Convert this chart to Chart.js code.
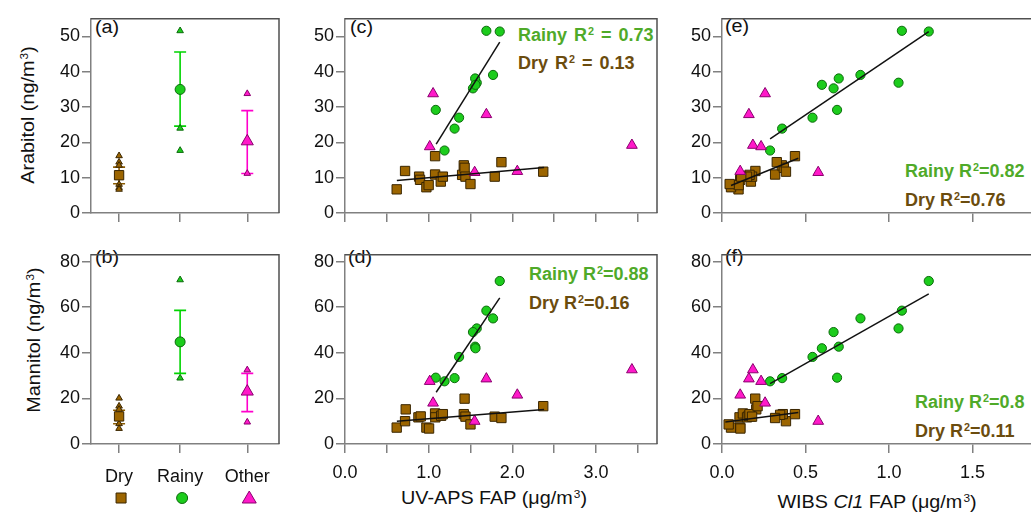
<!DOCTYPE html>
<html>
<head>
<meta charset="utf-8">
<script src="https://cdn.jsdelivr.net/npm/chart.js@4.4.1/dist/chart.umd.min.js"></script>
<style>
  html, body { margin: 0; padding: 0; background: #fff; }
  body { width: 1031px; height: 512px; position: relative; overflow: hidden;
         font-family: "Liberation Sans", Arial, sans-serif; color: #111; }
  canvas { position: absolute; }
  .lbl { position: absolute; white-space: nowrap; line-height: 1; font-size: 18px;
         transform: scaleX(1.1); transform-origin: left top; }
  .r2 { position: absolute; white-space: nowrap; line-height: 1; font-size: 18px; font-weight: bold; }
  .wide { word-spacing: 2px; }
  .rainy { color: #4faa29; }
  .dry { color: #6b4c0e; }
  sup { font-size: 0.6em; position: relative; top: -0.6em; vertical-align: baseline; margin-left: 1px; }
  .ytitle { position: absolute; white-space: nowrap; line-height: 1; font-size: 18px;
            transform: translate(-50%, -50%) rotate(-90deg) scaleX(1.1); }
  .xtitle { position: absolute; white-space: nowrap; line-height: 1; font-size: 18px;
            transform: translate(-50%, -50%) scaleX(1.1); }
</style>
</head>
<body>

<div class="lbl" style="left:95px;top:18px">(a)</div>
<div class="lbl" style="left:95px;top:248px">(b)</div>
<div class="lbl" style="left:350px;top:18px">(c)</div>
<div class="lbl" style="left:348px;top:248px">(d)</div>
<div class="lbl" style="left:725px;top:17px">(e)</div>
<div class="lbl" style="left:725px;top:247px">(f)</div>

<div class="r2 rainy wide" style="left:518px;top:26px">Rainy R<sup>2</sup> = 0.73</div>
<div class="r2 dry wide" style="left:518px;top:54px">Dry R<sup>2</sup> = 0.13</div>
<div class="r2 rainy" style="left:529px;top:265px">Rainy R<sup>2</sup>=0.88</div>
<div class="r2 dry" style="left:529px;top:294px">Dry R<sup>2</sup>=0.16</div>
<div class="r2 rainy" style="left:905px;top:162px">Rainy R<sup>2</sup>=0.82</div>
<div class="r2 dry" style="left:905px;top:191px">Dry R<sup>2</sup>=0.76</div>
<div class="r2 rainy" style="left:915px;top:393px">Rainy R<sup>2</sup>=0.8</div>
<div class="r2 dry" style="left:915px;top:422px">Dry R<sup>2</sup>=0.11</div>

<div class="ytitle" style="left:28px;top:115px">Arabitol (ng/m<sup>3</sup>)</div>
<div class="ytitle" style="left:34px;top:340px">Mannitol (ng/m<sup>3</sup>)</div>
<div class="xtitle" style="left:494px;top:498px">UV-APS FAP (&mu;g/m<sup>3</sup>)</div>
<div class="xtitle" style="left:877px;top:502px">WIBS <i>Cl1</i> FAP (&mu;g/m<sup>3</sup>)</div>

<script>
// Arabitol / mannitol vs fluorescent aerosol particles, by season

const seasons = ['Dry', 'Rainy', 'Other'];

// (a) arabitol summary per season
const araMean = [10.7, 35.0, 20.3];
const araErrHi = [13.0, 45.6, 29.0];
const araErrLo = [8.3, 24.6, 11.2];
const araMarks = [[16.2, 14.4, 13.5, 8.1, 7.2, 6.7], [51.6, 24.0, 17.7], [33.8, 11.2]];

// (b) mannitol summary per season
const manMean = [12.1, 44.8, 23.0];
const manErrHi = [14.8, 58.6, 31.0];
const manErrLo = [8.9, 31.0, 14.2];
const manMarks = [[20.1, 16.6, 15.2, 8.9, 6.8], [72.0, 28.9], [32.5, 9.6]];

// rainy samples
const rainyUv = [1.85, 1.69, 1.77, 1.085, 1.364, 1.31, 1.19, 1.575, 1.556, 1.53, 1.56];
const rainyWibs = [1.238, 1.077, 0.829, 0.689, 0.542, 0.360, 0.288, 1.057, 0.699, 0.668, 0.598];
const rainyAra = [51.4, 51.6, 39.1, 29.2, 27.0, 23.9, 17.7, 36.9, 38.1, 35.3, 36.3];
const rainyMan = [71.5, 58.5, 55.1, 29.1, 38.2, 28.9, 27.5, 50.7, 42.7, 49.1, 42.0];

// other samples
const otherUv = [1.053, 1.69, 3.43, 1.013, 2.06, 1.55];
const otherWibs = [0.258, 0.161, 0.185, 0.234, 0.109, 0.576];
const otherAra = [33.8, 27.9, 19.2, 18.8, 11.8, 11.5];
const otherMan = [18.0, 28.6, 32.6, 27.5, 21.5, 10.0];

// dry samples (read per panel)
const dryUvC = [0.618, 0.718, 0.886, 0.897, 0.973, 1.00, 1.077, 1.077, 1.145, 1.17, 1.40, 1.42, 1.43, 1.44, 1.50, 1.79, 1.87, 2.37];
const dryAraC = [6.7, 11.9, 10.3, 9.4, 7.3, 7.9, 16.1, 10.9, 8.9, 10.3, 10.8, 13.5, 12.8, 10.3, 8.2, 10.3, 14.4, 11.7];
const dryUvD = [0.618, 0.718, 0.726, 0.878, 0.905, 0.973, 1.005, 1.077, 1.08, 1.15, 1.17, 1.43, 1.42, 1.44, 1.50, 1.79, 1.87, 2.37];
const dryManD = [7.2, 10.0, 15.2, 11.7, 12.1, 7.2, 6.8, 13.4, 11.7, 12.4, 13.1, 19.9, 13.1, 12.0, 8.6, 12.0, 11.4, 16.6];
const dryWibsE = [0.099, 0.20, 0.17, 0.109, 0.054, 0.10, 0.437, 0.318, 0.173, 0.18, 0.165, 0.358, 0.37, 0.15, 0.046, 0.115, 0.328, 0.383];
const dryAraE = [6.7, 11.9, 10.3, 9.4, 7.3, 7.9, 16.1, 10.9, 8.9, 10.3, 10.8, 13.5, 12.8, 10.3, 8.2, 10.3, 14.4, 11.7];
const dryWibsF = [0.054, 0.383, 0.205, 0.105, 0.173, 0.109, 0.11, 0.125, 0.15, 0.16, 0.165, 0.199, 0.364, 0.18, 0.04, 0.348, 0.318, 0.213, 0.437];
const dryManF = [7.2, 10.0, 15.2, 11.7, 12.1, 7.2, 6.8, 13.4, 11.7, 12.4, 13.1, 19.9, 13.1, 12.0, 8.6, 12.8, 11.4, 16.6, 13.1];

// regression line end points
const fitRainyC = [[1.09, 19.5], [1.85, 48.4]];
const fitDryC = [[0.62, 9.2], [2.38, 12.9]];
const fitRainyD = [[1.09, 22.7], [1.85, 64.1]];
const fitDryD = [[0.62, 10.0], [2.38, 15.1]];
const fitRainyE = [[0.288, 21.0], [1.238, 51.4]];
const fitDryE = [[0.054, 7.8], [0.457, 15.5]];
const fitRainyF = [[0.288, 26.5], [1.238, 65.9]];
const fitDryF = [[0.02, 9.6], [0.457, 13.8]];

// styling
const FONT = '"Liberation Sans", Arial, sans-serif';
const AXIS = '#808080';
const FRAME = '#505050';
const fills = ['#9c6500', '#1ccc1c', '#ff19c9'];
const edges = ['#3a2600', '#0c6a0c', '#8a006e'];
const errColors = ['#8a5a00', '#00d400', '#ff00cc'];
const styles = ['rect', 'circle', 'triangle'];
const catPos = [1, 2, 3.1];

function pts(xs, ys) {
    return xs.map((x, i) => ({ x: x, y: ys[i] }));
}

function pairs(arr) {
    return arr.map(p => ({ x: p[0], y: p[1] }));
}

function makeCanvas(L, T, R, B, axisH) {
    const c = document.createElement('canvas');
    const w = R - L + 90 + 8;
    const h = B - T + 6 + axisH;
    c.width = w;
    c.height = h;
    c.style.left = (L - 90) + 'px';
    c.style.top = (T - 6) + 'px';
    c.style.width = w + 'px';
    c.style.height = h + 'px';
    document.body.appendChild(c);
    return c;
}

const framePlugin = {
    id: 'frame',
    afterDraw(chart) {
        const { ctx, chartArea: a } = chart;
        ctx.save();
        ctx.strokeStyle = FRAME;
        ctx.lineWidth = 1.5;
        ctx.beginPath();
        ctx.moveTo(a.left, a.top);
        ctx.lineTo(a.right, a.top);
        ctx.lineTo(a.right, a.bottom);
        ctx.stroke();
        ctx.restore();
    }
};

function yScale(max, step) {
    return {
        type: 'linear',
        min: 0,
        max: max,
        afterFit(s) { s.width = 90; },
        border: { display: true, color: AXIS, width: 1.5 },
        grid: { drawOnChartArea: false, drawTicks: true, tickLength: 9, color: AXIS, lineWidth: 1.5 },
        ticks: { stepSize: step, includeBounds: false, padding: 2, color: '#111', font: { family: FONT, size: 18 } }
    };
}

function xScale(min, max, step, axisH, labelFn) {
    return {
        type: 'linear',
        min: min,
        max: max,
        afterFit(s) { s.height = axisH; },
        border: { display: true, color: AXIS, width: 1.5 },
        grid: { drawOnChartArea: false, drawTicks: true, tickLength: 9, color: AXIS, lineWidth: 1.5 },
        ticks: {
            stepSize: step, includeBounds: false, autoSkip: false, maxRotation: 0, padding: 9,
            color: '#111', font: { family: FONT, size: 18 },
            callback: labelFn
        }
    };
}

function baseOptions(scales) {
    return {
        responsive: false,
        animation: false,
        events: [],
        layout: { padding: { top: 6, right: 8, bottom: 0, left: 0 }, autoPadding: false },
        plugins: { legend: { display: false }, tooltip: { enabled: false } },
        scales: scales
    };
}

// (a) and (b): season summaries
function summaryPanel(L, T, R, B, axisH, yMax, yStep, mean, hi, lo, marks, showLabels) {
    const canvas = makeCanvas(L, T, R, B, axisH);
    const datasets = [];
    seasons.forEach((s, i) => {
        datasets.push({
            label: s + ' mean',
            data: [{ x: catPos[i], y: mean[i] }],
            pointStyle: styles[i],
            pointRadius: i === 0 ? 6.6 : (i === 1 ? 5 : 7),
            backgroundColor: fills[i],
            borderColor: edges[i],
            borderWidth: 1
        });
    });
    seasons.forEach((s, i) => {
        datasets.push({
            label: s + ' range',
            data: marks[i].map(v => ({ x: catPos[i], y: v })),
            pointStyle: 'triangle',
            pointRadius: 3.8,
            backgroundColor: fills[i],
            borderColor: edges[i],
            borderWidth: 1
        });
    });

    const errorBars = {
        id: 'errorBars',
        beforeDatasetsDraw(chart) {
            const { ctx, scales: { x, y } } = chart;
            ctx.save();
            ctx.lineWidth = 1.6;
            catPos.forEach((p, i) => {
                const px = x.getPixelForValue(p);
                const top = y.getPixelForValue(hi[i]);
                const bot = y.getPixelForValue(lo[i]);
                ctx.strokeStyle = errColors[i];
                ctx.beginPath();
                ctx.moveTo(px, top); ctx.lineTo(px, bot);
                ctx.moveTo(px - 6, top); ctx.lineTo(px + 6, top);
                ctx.moveTo(px - 6, bot); ctx.lineTo(px + 6, bot);
                ctx.stroke();
            });
            ctx.restore();
        }
    };

    const keyMarks = {
        id: 'keyMarks',
        afterDraw(chart) {
            if (!showLabels) return;
            const { ctx, scales: { x, y } } = chart;
            const my = y.bottom + 54;
            catPos.forEach((p, i) => {
                const px = x.getPixelForValue(p) + 2;
                ctx.save();
                ctx.fillStyle = fills[i];
                ctx.strokeStyle = edges[i];
                ctx.lineWidth = 1;
                ctx.beginPath();
                if (i === 0) {
                    ctx.rect(px - 5, my - 5, 10, 10);
                } else if (i === 1) {
                    ctx.arc(px, my, 5.5, 0, Math.PI * 2);
                } else {
                    ctx.moveTo(px, my - 7);
                    ctx.lineTo(px + 7, my + 5);
                    ctx.lineTo(px - 7, my + 5);
                    ctx.closePath();
                }
                ctx.fill();
                ctx.stroke();
                ctx.restore();
            });
        }
    };

    const xs = xScale(0.54, 3.62, 1, axisH, (v, idx) => showLabels ? seasons[idx] : '');
    xs.afterBuildTicks = s => { s.ticks = catPos.map(v => ({ value: v })); };
    xs.ticks.padding = 13;

    new Chart(canvas, {
        type: 'scatter',
        data: { datasets: datasets },
        options: baseOptions({ x: xs, y: yScale(yMax, yStep) }),
        plugins: [framePlugin, errorBars, keyMarks]
    });
}

// (c)-(f): scatter with regression lines
function scatterPanel(L, T, R, B, axisH, xMax, yMax, yStep, showLabels, sets) {
    const canvas = makeCanvas(L, T, R, B, axisH);
    const lineSet = (d) => ({
        data: pairs(d), showLine: true, pointRadius: 0, borderColor: '#111', borderWidth: 1.5, fill: false
    });
    const datasets = [
        lineSet(sets.fitRainy),
        lineSet(sets.fitDry),
        { label: 'Other', data: sets.other, pointStyle: 'triangle', pointRadius: 6.2,
          backgroundColor: fills[2], borderColor: edges[2], borderWidth: 1 },
        { label: 'Rainy', data: sets.rainy, pointStyle: 'circle', pointRadius: 4.6,
          backgroundColor: fills[1], borderColor: edges[1], borderWidth: 1 },
        { label: 'Dry', data: sets.dry, pointStyle: 'rect', pointRadius: 6.6,
          backgroundColor: fills[0], borderColor: edges[0], borderWidth: 1 }
    ];
    const fmt = v => {
        if (!showLabels) return '';
        if (sets.step === 1 && Math.abs(v - Math.round(v)) > 1e-6) return '';
        return v.toFixed(1);
    };
    new Chart(canvas, {
        type: 'scatter',
        data: { datasets: datasets },
        options: baseOptions({ x: xScale(0, xMax, 0.5, axisH, fmt), y: yScale(yMax, yStep) }),
        plugins: [framePlugin]
    });
}

summaryPanel(91, 12, 279, 213, 20, 55, 10, araMean, araErrHi, araErrLo, araMarks, false);
summaryPanel(91, 248, 279, 444, 64, 83, 20, manMean, manErrHi, manErrLo, manMarks, true);

scatterPanel(345, 12, 657, 213, 20, 3.73, 55, 10, false, {
    step: 1,
    fitRainy: fitRainyC, fitDry: fitDryC,
    other: pts(otherUv, otherAra), rainy: pts(rainyUv, rainyAra), dry: pts(dryUvC, dryAraC)
});
scatterPanel(345, 248, 657, 444, 40, 3.73, 83, 20, true, {
    step: 1,
    fitRainy: fitRainyD, fitDry: fitDryD,
    other: pts(otherUv, otherMan), rainy: pts(rainyUv, rainyMan), dry: pts(dryUvD, dryManD)
});
scatterPanel(722, 12, 1046, 213, 20, 1.94, 55, 10, false, {
    step: 0.5,
    fitRainy: fitRainyE, fitDry: fitDryE,
    other: pts(otherWibs, otherAra), rainy: pts(rainyWibs, rainyAra), dry: pts(dryWibsE, dryAraE)
});
scatterPanel(722, 248, 1046, 444, 40, 1.94, 83, 20, true, {
    step: 0.5,
    fitRainy: fitRainyF, fitDry: fitDryF,
    other: pts(otherWibs, otherMan), rainy: pts(rainyWibs, rainyMan), dry: pts(dryWibsF, dryManF)
});
</script>
</body>
</html>
